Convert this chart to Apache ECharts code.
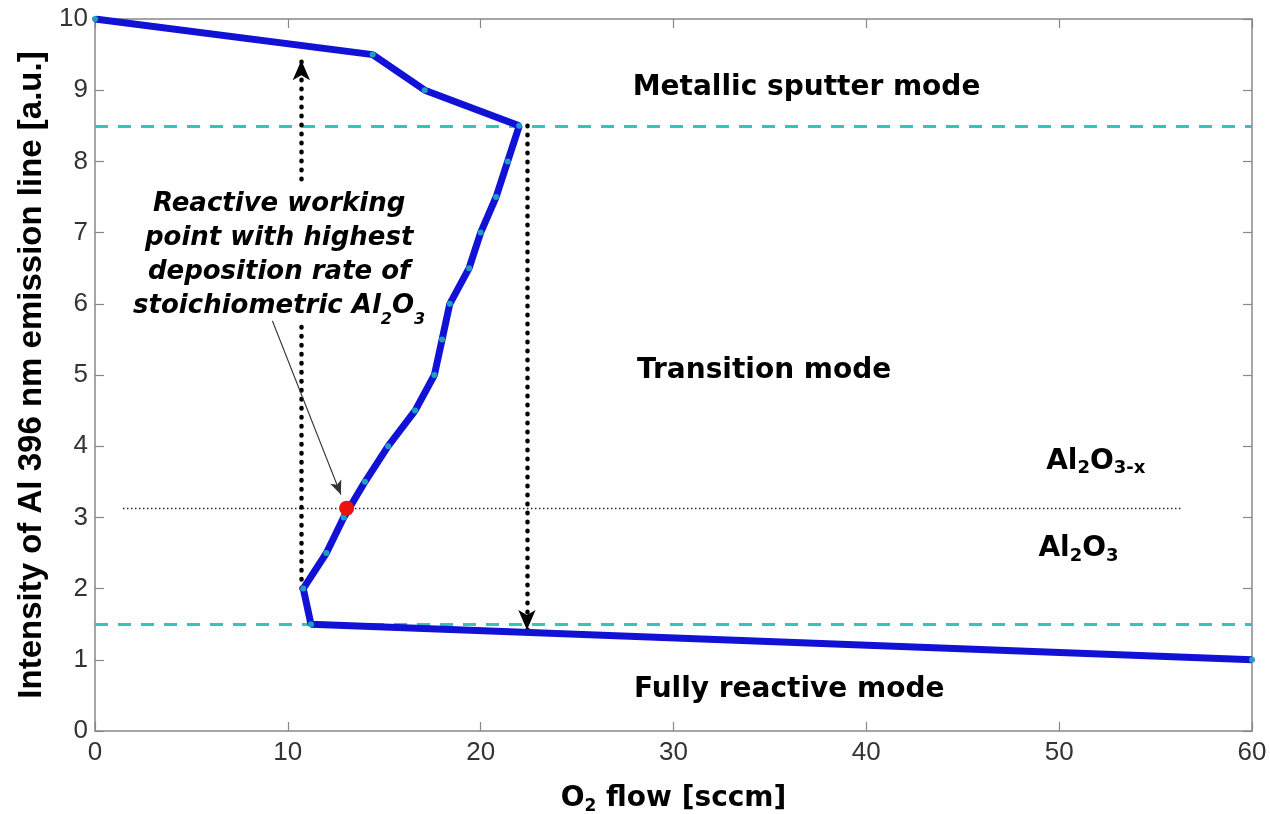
<!DOCTYPE html>
<html>
<head>
<meta charset="utf-8">
<script src="https://cdn.jsdelivr.net/npm/echarts@6/dist/echarts.min.js"></script>
<style>html,body{margin:0;padding:0;background:#fff}#c{width:1270px;height:814px}</style>
</head>
<body>
<div id="c"></div>
<script>
// ---- data ----
const o2Flow    = [0, 14.4, 17.1, 22.0, 21.4, 20.8, 20.0, 19.4, 18.4, 18.0, 17.6, 16.6, 15.2, 14.0, 12.9, 12.0, 10.8, 11.2, 60];
const intensity = [10, 9.5, 9.0, 8.5, 8.0, 7.5, 7.0, 6.5, 6.0, 5.5, 5.0, 4.5, 4.0, 3.5, 3.0, 2.5, 2.0, 1.5, 1.0];
const workingPoint = [13.05, 3.13];
const modeLevels = [8.5, 1.5];
const xTicks = [0, 10, 20, 30, 40, 50, 60];
const yTicks = [0, 1, 2, 3, 4, 5, 6, 7, 8, 9, 10];
const upArrow   = { x: 10.7, from: 2.0, to: 9.42 };
const downArrow = { x: 22.4, from: 8.5, to: 1.42 };
const labelTexts = ['Metallic sputter mode', 'Transition mode', 'AlOx', 'AlO', 'Fully reactive mode', 'note'];
const labelX = [36.9, 34.7, 51.9, 51.0, 36.0, 9.55];
const labelY = [9.02, 5.04, 3.77, 2.54, 0.57, 6.62];

const chart = echarts.init(document.getElementById('c'));
const pts = o2Flow.map((x, i) => [x, intensity[i]]);

const heavy = { fontFamily: 'DejaVu Sans', fontWeight: 'bold', color: '#000' };
const richSub = {
  b: Object.assign({ fontSize: 28, lineHeight: 30, verticalAlign: 'top' }, heavy),
  s: Object.assign({ fontSize: 18, lineHeight: 18, padding: [17, 0, 0, 0], verticalAlign: 'bottom' }, heavy),
  bi: Object.assign({ fontSize: 26, lineHeight: 34, verticalAlign: 'top', fontStyle: 'italic' }, heavy),
  si: Object.assign({ fontSize: 16, lineHeight: 16, padding: [22, 0, 0, 0], verticalAlign: 'bottom', fontStyle: 'italic' }, heavy)
};
function fmt(t) {
  if (t === 'AlOx') return '{b|Al}{s|2}{b|O}{s|3-x}';
  if (t === 'AlO') return '{b|Al}{s|2}{b|O}{s|3}';
  if (t === 'note') return '{bi|Reactive working}\n{bi|point with highest}\n{bi|deposition rate of}\n{bi|stoichiometric Al}{si|2}{bi|O}{si|3}';
  return '{b|' + t + '}';
}
const labelData = labelTexts.map((t, i) => ({
  value: [labelX[i], labelY[i]],
  label: { show: true, position: 'inside', formatter: fmt(t), rich: richSub, opacity: 1 }
}));

const dotted = { color: '#000', width: 4.5, type: [0.5, 8.5], cap: 'round' };
const frameColor = '#888';
const tickFont = { fontFamily: 'Liberation Sans', fontSize: 26, color: '#333' };

const option = {
  animation: false,
  backgroundColor: '#fff',
  grid: { left: 95, right: 18, top: 19, bottom: 83, containLabel: false, outerBoundsMode: 'none' },
  xAxis: [{
    type: 'value', min: 0, max: 60, interval: 10,
    name: '{n|O}{sub|2}{n| flow [sccm]}', nameLocation: 'middle', nameGap: 54,
    nameTextStyle: { rich: {
      n: { fontFamily: 'DejaVu Sans', fontWeight: 'bold', fontSize: 28, color: '#000', verticalAlign: 'top', lineHeight: 30 },
      sub: { fontFamily: 'DejaVu Sans', fontWeight: 'bold', fontSize: 17, color: '#000', verticalAlign: 'bottom', lineHeight: 17, padding: [18, 0, 0, 0] }
    } },
    axisLine: { show: true, lineStyle: { color: frameColor, width: 1.5 } },
    axisTick: { show: true, inside: true, length: 9, lineStyle: { color: frameColor, width: 1.2 } },
    axisLabel: Object.assign({ margin: 9 }, tickFont),
    splitLine: { show: false }
  }, {
    type: 'value', position: 'top', min: 0, max: 60, interval: 10,
    axisLine: { show: true, onZero: false, lineStyle: { color: frameColor, width: 1.5 } },
    axisTick: { show: true, inside: true, length: 9, lineStyle: { color: frameColor, width: 1.2 } },
    axisLabel: { show: false }, splitLine: { show: false }
  }],
  yAxis: [{
    type: 'value', min: 0, max: 10, interval: 1,
    name: 'Intensity of Al 396 nm emission line [a.u.]', nameLocation: 'middle', nameGap: 46,
    nameTextStyle: { fontFamily: 'Liberation Sans', fontWeight: 'bold', fontSize: 33, color: '#000' },
    axisLine: { show: true, lineStyle: { color: frameColor, width: 1.5 } },
    axisTick: { show: true, inside: true, length: 9, lineStyle: { color: frameColor, width: 1.2 } },
    axisLabel: Object.assign({ margin: 7 }, tickFont),
    splitLine: { show: false }
  }, {
    type: 'value', position: 'right', min: 0, max: 10, interval: 1,
    axisLine: { show: true, onZero: false, lineStyle: { color: frameColor, width: 1.5 } },
    axisTick: { show: true, inside: true, length: 9, lineStyle: { color: frameColor, width: 1.2 } },
    axisLabel: { show: false }, splitLine: { show: false }
  }],
  series: [
    {
      type: 'line', name: 'levels', data: [], silent: true,
      markLine: {
        silent: true, symbol: ['none', 'none'], label: { show: false },
        lineStyle: { color: '#35c4b8', width: 3, type: [13, 10] },
        data: modeLevels.map(v => [{ coord: [0, v] }, { coord: [60, v] }])
      }
    },
    {
      type: 'line', name: 'stoich', data: [], silent: true,
      markLine: {
        silent: true, symbol: ['none', 'none'], label: { show: false },
        lineStyle: { color: '#222', width: 1.3, type: [1.5, 2.5] },
        data: [[{ coord: [1.45, workingPoint[1]] }, { coord: [56.3, workingPoint[1]] }]]
      }
    },
    {
      type: 'line', name: 'hyst', data: [], silent: true,
      markLine: {
        silent: true, symbol: ['none', 'arrow'], symbolSize: [13, 20], label: { show: false },
        lineStyle: dotted,
        data: [
          [{ coord: [upArrow.x, upArrow.from], symbol: 'none' }, { coord: [upArrow.x, 5.78], symbol: 'none' }],
          [{ coord: [upArrow.x, 7.75], symbol: 'none' }, { coord: [upArrow.x, upArrow.to] }],
          [{ coord: [downArrow.x, downArrow.from], symbol: 'none' }, { coord: [downArrow.x, downArrow.to] }]
        ]
      }
    },
    {
      type: 'line', name: 'curve', data: pts, z: 5,
      lineStyle: { color: '#1212d6', width: 7 },
      symbol: 'circle', symbolSize: 6, showSymbol: true,
      itemStyle: { color: '#1f9fc0', borderWidth: 0 }
    },
    {
      type: 'line', name: 'pointer', data: [], silent: true,
      markLine: {
        silent: true, symbol: ['none', 'arrow'], symbolSize: [9, 14], label: { show: false },
        lineStyle: { color: '#333', width: 1.2, type: 'solid' },
        data: [[{ coord: [9.2, 5.76] }, { coord: [12.75, 3.32] }]]
      }
    },
    {
      type: 'scatter', name: 'wp', data: [workingPoint], z: 6,
      symbolSize: 15, itemStyle: { color: '#ee1111', opacity: 1 }
    },
    {
      type: 'scatter', name: 'labels', data: labelData, symbolSize: 0, z: 7, silent: true,
      itemStyle: { opacity: 1 }
    }
  ]
};
chart.setOption(option);
</script>
</body>
</html>
